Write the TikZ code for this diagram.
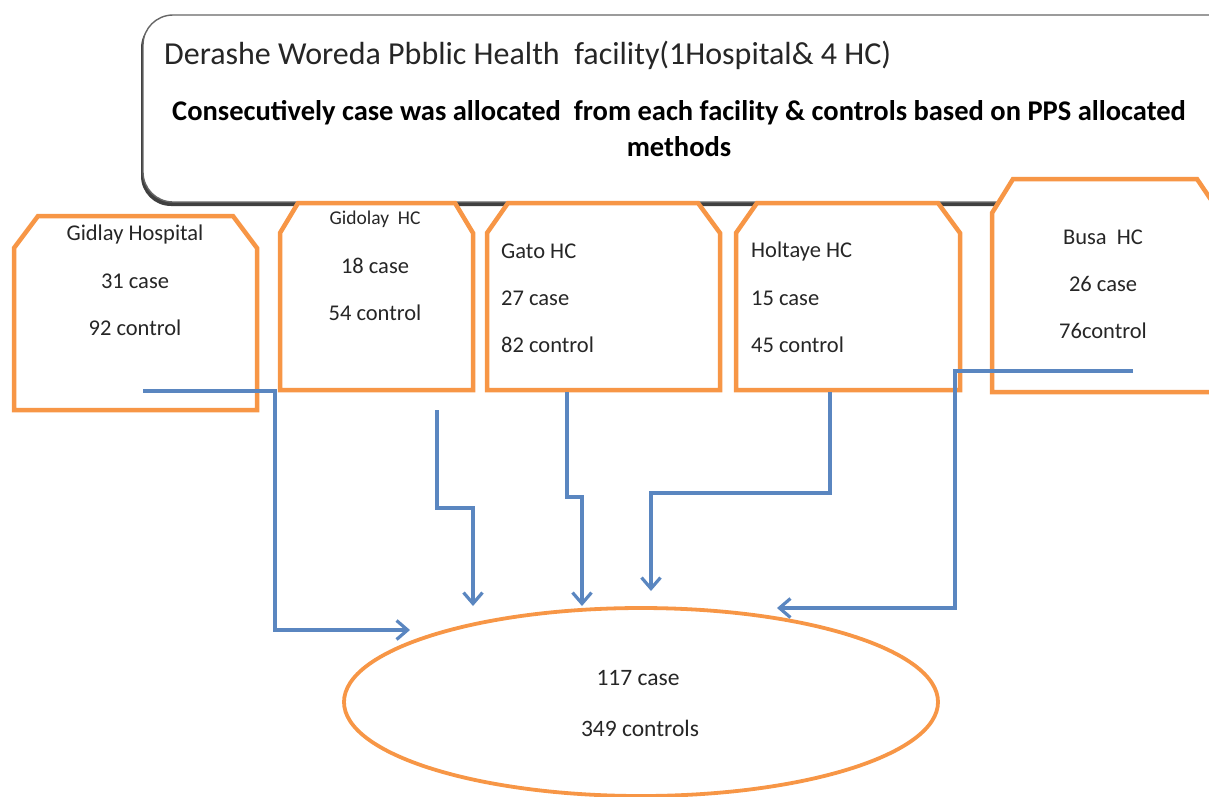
\documentclass[tikz,border=0pt]{standalone}
\usepackage{fontspec}
\setmainfont{Carlito}
\usetikzlibrary{arrows.meta,shapes.geometric}
\definecolor{orng}{HTML}{F79646}
\definecolor{blu}{HTML}{5A86C0}
\definecolor{txt}{HTML}{262626}
\tikzset{
  obox/.style={draw=orng, line width=4.5pt, fill=white, line join=miter},
  btxt/.style={text=txt, font=\fontsize{22.5}{24}\selectfont, inner sep=0pt},
  conn/.style={draw=blu, line width=3.6pt, -{Straight Barb[length=11pt,width=19pt,line width=3.2pt]}},
}
\begin{document}
\begin{tikzpicture}[x=1pt,y=-1pt]
\useasboundingbox (0,0) rectangle (1209,796);
% top box with shadow
\fill[black!75, rounded corners=30] (141,18) rectangle (1250,206);
\draw[fill=white, draw=black!60, line width=1.4pt, rounded corners=30] (143,15) rectangle (1250,202);
\node[anchor=west, text=txt, font=\fontsize{32}{34}\selectfont, inner sep=0pt] (title) at (164,55) {Derashe Woreda Pbblic Health\ \ facility(1Hospital\& 4 HC)};
\node[anchor=center, align=center, text=black, font=\bfseries\fontsize{28.5}{36}\selectfont, inner sep=0pt] (sub) at (679,129) {Consecutively case was allocated\ \ from each facility \& controls based on PPS allocated\\methods};
% facility boxes
\draw[obox] (14,410) -- (14,248) -- (38,216) -- (233,216) -- (257,248) -- (257,410) -- cycle;
\draw[obox] (280,390) -- (280,233) -- (298,203) -- (455,203) -- (473,233) -- (473,390) -- cycle;
\draw[obox] (487,390) -- (487,233) -- (508,203) -- (698,203) -- (720,233) -- (720,390) -- cycle;
\draw[obox] (736,390) -- (736,233) -- (757,203) -- (938,203) -- (960,233) -- (960,390) -- cycle;
\draw[obox] (992,392) -- (992,213) -- (1013,179) -- (1197,179) -- (1220,213) -- (1220,392) -- cycle;
% texts
\node[btxt] (h1) at (135,234) {Gidlay Hospital};
\node[btxt] (h2) at (135,281) {31 case};
\node[btxt] (h3) at (135,328) {92 control};
\node[btxt, font=\fontsize{19.5}{21}\selectfont] (g1) at (375,219) {Gidolay\ \ HC};
\node[btxt] (g2) at (375,266) {18 case};
\node[btxt] (g3) at (375,313) {54 control};
\node[btxt, anchor=west] (t1) at (501,251) {Gato HC};
\node[btxt, anchor=west] (t2) at (501,298) {27 case};
\node[btxt, anchor=west] (t3) at (501,345) {82 control};
\node[btxt, anchor=west] (o1) at (751,251) {Holtaye HC};
\node[btxt, anchor=west] (o2) at (751,298) {15 case};
\node[btxt, anchor=west] (o3) at (751,345) {45 control};
\node[btxt] (b1) at (1103,237) {Busa\ \ HC};
\node[btxt] (b2) at (1103,284) {26 case};
\node[btxt] (b3) at (1103,331) {76control};
% ellipse
\node[ellipse, draw=orng, line width=3.8pt, fill=white, minimum width=594pt, minimum height=188pt, inner sep=0pt] (total) at (641,702) {};
\node[btxt, font=\fontsize{23.5}{25}\selectfont] (e1) at (638,678) {117 case};
\node[btxt, font=\fontsize{23.5}{25}\selectfont] (e2) at (640,728) {349 controls};
% connector coordinates
\coordinate (s1) at (143,391);
\coordinate (k1) at (275,391);
\coordinate (k1b) at (275,630);
\coordinate (e1t) at (410,630);
\coordinate (s2) at (437,410);
\coordinate (k2) at (437,508);
\coordinate (k2b) at (473,508);
\coordinate (e2t) at (473,606);
\coordinate (s3) at (567,392);
\coordinate (k3) at (567,497);
\coordinate (k3b) at (582,497);
\coordinate (e3t) at (582,606);
\coordinate (s4) at (830,392);
\coordinate (k4) at (830,493);
\coordinate (k4b) at (651,493);
\coordinate (e4t) at (651,591);
\coordinate (s5) at (1133,371);
\coordinate (k5) at (955,371);
\coordinate (k5b) at (955,608);
\coordinate (e5t) at (777,608);
% connectors
\draw[conn] (s1) -- (k1) -- (k1b) -- (e1t);
\draw[conn] (s2) -- (k2) -- (k2b) -- (e2t);
\draw[conn] (s3) -- (k3) -- (k3b) -- (e3t);
\draw[conn] (s4) -- (k4) -- (k4b) -- (e4t);
\draw[conn] (s5) -- (k5) -- (k5b) -- (e5t);
\end{tikzpicture}
\end{document}
